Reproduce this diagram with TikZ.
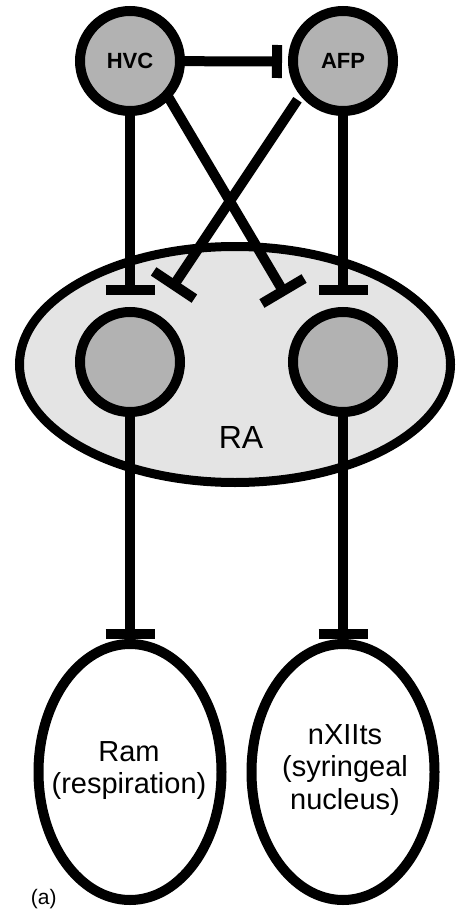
\documentclass[tikz,border=0pt]{standalone}
\usepackage{fontspec}
\setmainfont{Liberation Sans}
\usetikzlibrary{shapes.geometric,calc}
\pgfdeclarelayer{bg}
\pgfdeclarelayer{mid}
\pgfsetlayers{bg,mid,main}
\definecolor{cellgray}{RGB}{178,178,178}
\definecolor{ragray}{RGB}{228,228,228}
\begin{document}
\begin{tikzpicture}[x=1pt,y=-1pt,
  cell/.style={circle,draw,line width=10pt,fill=cellgray,minimum size=100pt,inner sep=0pt,font=\bfseries\fontsize{22}{24}\selectfont},
  target/.style={ellipse,draw,line width=10pt,fill=white,minimum width=183pt,minimum height=256pt,inner sep=0pt},
  conn/.style={line width=10pt,line cap=butt},
  lbl/.style={align=center,font=\fontsize{29}{32.5}\selectfont,inner sep=0pt}
]
\useasboundingbox (0,0) rectangle (461,909);
\begin{pgfonlayer}{bg}
\fill[white] (0,0) rectangle (461,909);
\node[ellipse,draw,line width=9pt,fill=ragray,minimum width=431pt,minimum height=236pt,inner sep=0pt] (RA) at (235,364.5) {};
\end{pgfonlayer}
\node[cell] (HVC) at (130,61) {HVC};
\node[cell] (AFP) at (343,61) {AFP};
\node[cell] (L) at (130,362) {};
\node[cell] (R) at (343,362) {};
\node[font=\fontsize{32}{34}\selectfont,inner sep=0pt] (RAlbl) at (241,437) {RA};
\node[target] (Ram) at (130,772) {};
\node[target] (NX) at (343,772) {};
\node[lbl] (RamT) at (129,770.5) {Ram\\(respiration)};
\node[lbl] (NXT) at (345,770) {nXIIts\\(syringeal\\nucleus)};
\node[font=\fontsize{21}{23}\selectfont,inner sep=0pt] (alabel) at (43.7,899) {(a)};
\coordinate (b0) at (277,61.5);
\coordinate (b1) at (130,290);
\coordinate (b2) at (283,291);
\coordinate (b3) at (174,285);
\coordinate (b4) at (343,290);
\coordinate (b5) at (130,634);
\coordinate (b6) at (343,634);
\begin{pgfonlayer}{mid}
\draw[conn] (HVC.center) -- (b0);
\draw[conn] (HVC.center) -- (b1);
\draw[conn,shorten <=-8pt] (HVC.-44) -- (b2);
\draw[conn,shorten <=5pt] (AFP.-141) -- (b3);
\draw[conn] (AFP.center) -- (b4);
\draw[conn] (L.center) -- (b5);
\draw[conn] (R.center) -- (b6);
\draw[conn] ($(b0)!16.5pt!90:(HVC.center)$) -- ($(b0)!16.5pt!-90:(HVC.center)$);
\draw[conn] ($(b1)!24.5pt!90:(HVC.center)$) -- ($(b1)!24.5pt!-90:(HVC.center)$);
\draw[conn] ($(b2)!24.5pt!90:(HVC.-44)$) -- ($(b2)!24.5pt!-90:(HVC.-44)$);
\draw[conn] ($(b3)!24.5pt!90:(AFP.-141)$) -- ($(b3)!24.5pt!-90:(AFP.-141)$);
\draw[conn] ($(b4)!24.5pt!90:(AFP.center)$) -- ($(b4)!24.5pt!-90:(AFP.center)$);
\draw[conn] ($(b5)!24.5pt!90:(L.center)$) -- ($(b5)!24.5pt!-90:(L.center)$);
\draw[conn] ($(b6)!24.5pt!90:(R.center)$) -- ($(b6)!24.5pt!-90:(R.center)$);
\end{pgfonlayer}
\end{tikzpicture}
\end{document}
